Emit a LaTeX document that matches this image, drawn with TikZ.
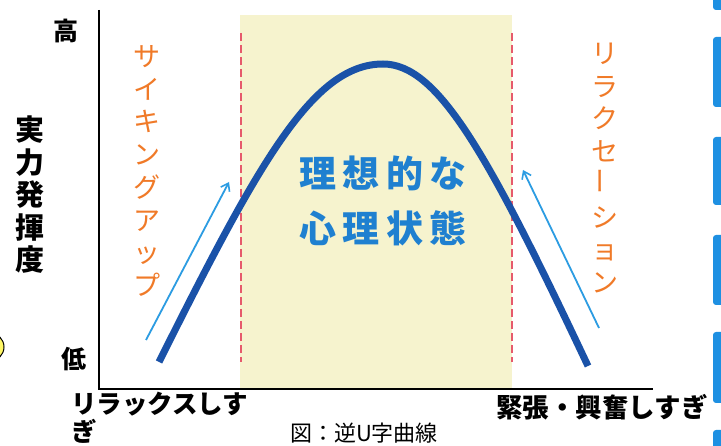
\documentclass[tikz,border=0pt]{standalone}
\usepackage{fontspec}
\setmainfont{Noto Sans CJK JP}
\usetikzlibrary{arrows.meta}
\definecolor{curveblue}{HTML}{1A52A8}
\definecolor{arrowblue}{HTML}{2C9CE2}
\definecolor{textblue}{HTML}{1F80D0}
\definecolor{orangetxt}{HTML}{F07A28}
\definecolor{dashred}{HTML}{E65A6C}
\definecolor{zoneyellow}{HTML}{F6F3CE}
\definecolor{tabblue}{HTML}{1E90E2}
\begin{document}
\begin{tikzpicture}[x=1pt,y=-1pt,
  axisline/.style={line width=2pt,black},
  zoneline/.style={dashred,line width=1.3pt,dash pattern=on 8pt off 4pt},
  upcurve/.style={curveblue,line width=7pt},
  trendarrow/.style={arrowblue,line width=1.8pt,-{Straight Barb[length=7pt,width=10pt,line width=1.6pt]}},
  vkana/.style={orangetxt,align=center,font=\fontsize{27}{32.7}\selectfont},
  axlabel/.style={black,font=\bfseries\fontsize{25}{28}\selectfont,inner sep=0pt},
  tab/.style={fill=tabblue,rounded corners=3pt}]
\useasboundingbox (0,0) rectangle (721,446);
\fill[white] (0,0) rectangle (721,446);
% ideal zone
\fill[zoneyellow] (240,15) rectangle (512,388);
\draw[zoneline] (241,33) -- (241,362);
\draw[zoneline] (512,33) -- (512,362);
% axes
\coordinate (ytop) at (99,10);
\coordinate (origin) at (99,389);
\coordinate (xend) at (653,389);
\draw[axisline] (ytop) -- (origin) -- (xend);
% inverted U curve
\coordinate (cstart) at (159,362);
\coordinate (cpeak) at (383,64);
\coordinate (cend) at (588,366);
\draw[upcurve] (cstart) .. controls (259,162) and (313,64) .. (cpeak)
  .. controls (438,64) and (488,154) .. (cend);
% arrows
\coordinate (la1) at (146,340);
\coordinate (la2) at (229,182);
\coordinate (ra1) at (599,328);
\coordinate (ra2) at (523,170);
\draw[trendarrow] (la1) -- (la2);
\draw[trendarrow] (ra1) -- (ra2);
% vertical orange labels
\node[vkana] (psych) at (147,171) {サ\\イ\\キ\\ン\\グ\\ア\\ッ\\プ};
\node[vkana] (relax) at (605,168) {リ\\ラ\\ク\\セ\\\rotatebox{90}{ー}\\シ\\ョ\\ン};
% center label
\node[textblue,align=center,font=\bfseries\fontsize{37}{55}\selectfont\addfontfeatures{LetterSpace=18}] (ideal) at (383,201) {理想的な\\心理状態};
% y axis labels
\node[axlabel] (high) at (66,31) {高};
\node[axlabel] (low) at (74,359) {低};
\node[black,align=center,font=\bfseries\fontsize{29}{32.5}\selectfont] (ylab) at (30,195) {実\\力\\発\\揮\\度};
% x axis labels
\node[black,align=left,anchor=north west,inner sep=0pt,font=\bfseries\fontsize{25.5}{28}\selectfont] (xleft) at (71,392) {リラックスしす\\ぎ};
\node[black,anchor=west,inner sep=0pt,font=\bfseries\fontsize{26.5}{28}\selectfont] (xright) at (496,407) {緊張・興奮しすぎ};
\node[black,inner sep=0pt,font=\fontsize{22}{24}\selectfont] (caption) at (364,433) {図：逆U字曲線};
% page artefacts
\fill[tab] (713,-5) rectangle (730,10);
\fill[tab] (713,37) rectangle (730,107);
\fill[tab] (713,137) rectangle (730,205);
\fill[tab] (713,235) rectangle (730,305);
\fill[tab] (713,332) rectangle (730,403);
\fill[tab] (713,430) rectangle (730,460);
\draw[black,line width=1pt,fill=yellow!60] (-10,347) circle (14);
\end{tikzpicture}
\end{document}
